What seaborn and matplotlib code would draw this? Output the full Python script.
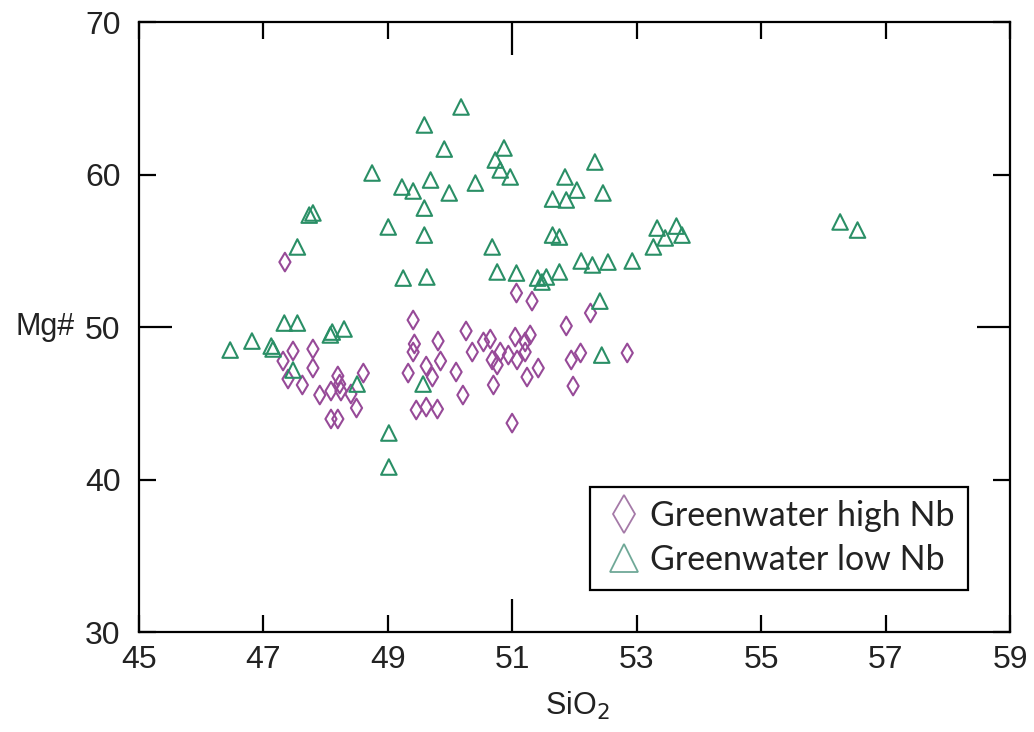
import numpy as np
import pandas as pd
import matplotlib
matplotlib.use("Agg")
import matplotlib.pyplot as plt
from matplotlib.lines import Line2D
import seaborn as sns

# Greenwater high-Nb samples (SiO2 wt%, Mg#)
si_high = [47.35, 47.48, 47.80, 47.32, 47.80, 47.40, 47.63, 47.91, 48.09, 48.20,
           48.25, 48.23, 48.41, 48.61, 48.50, 48.09, 48.20,
           49.41, 49.43, 49.41, 49.81, 49.85, 49.62, 49.33, 49.72, 49.46, 49.62,
           49.80, 50.26, 50.36, 50.10, 50.21, 50.54, 50.65, 50.81, 50.68, 50.76,
           50.70, 50.94, 51.05, 51.29, 51.21, 51.21, 51.08, 51.24, 51.42, 51.00,
           51.07, 51.32, 51.87, 52.26, 51.95, 52.10, 51.98, 52.85]
mg_high = [54.26, 48.43, 48.56, 47.77, 47.31, 46.59, 46.20, 45.54, 45.80, 46.79,
           45.80, 46.26, 45.61, 46.98, 44.69, 43.97, 43.97,
           50.46, 48.89, 48.36, 49.08, 47.77, 47.44, 46.98, 46.72, 44.56, 44.75,
           44.62, 49.74, 48.36, 47.05, 45.54, 49.02, 49.21, 48.36, 47.84, 47.51,
           46.20, 48.16, 49.34, 49.48, 49.02, 48.36, 47.84, 46.72, 47.31, 43.70,
           52.23, 51.70, 50.07, 50.92, 47.84, 48.30, 46.13, 48.30]

# Greenwater low-Nb samples (SiO2 wt%, Mg#)
si_low = [46.47, 46.82, 47.16, 47.13, 47.34, 47.55, 47.48, 47.55, 47.74, 47.80,
          48.08, 48.11, 48.30, 48.51, 48.75, 49.01, 49.02, 49.02, 49.23, 49.41,
          49.25, 49.59, 49.69, 49.59, 49.59, 49.63, 49.57, 49.91, 49.99, 50.18,
          50.41, 50.68, 50.73, 50.81, 50.87, 50.97, 50.76, 51.07, 51.41, 51.48,
          51.55, 51.76, 51.65, 51.76, 51.65, 51.87, 51.85, 52.04, 52.33, 52.46,
          52.11, 52.29, 52.54, 52.93, 52.41, 52.44, 53.27, 53.33, 53.46, 53.64,
          53.73, 56.27, 56.55]
mg_low = [48.49, 49.08, 48.56, 48.75, 50.26, 50.26, 47.18, 55.25, 57.34, 57.48,
          49.48, 49.67, 49.87, 46.26, 60.10, 56.56, 43.05, 40.82, 59.18, 58.92,
          53.21, 63.25, 59.64, 57.80, 56.03, 53.28, 46.26, 61.67, 58.79, 64.43,
          59.44, 55.25, 60.95, 60.30, 61.74, 59.84, 53.61, 53.54, 53.21, 52.95,
          53.28, 53.61, 56.03, 55.90, 58.39, 58.33, 59.84, 58.98, 60.82, 58.79,
          54.33, 54.07, 54.26, 54.33, 51.70, 48.16, 55.25, 56.49, 55.84, 56.62,
          56.03, 56.89, 56.36]

groups = ["Greenwater high Nb", "Greenwater low Nb"]
x_ticks = [45, 47, 49, 51, 53, 55, 57, 59]
y_ticks = [30, 40, 50, 60, 70]

df = pd.concat([
    pd.DataFrame({"SiO2": si_high, "Mg#": mg_high, "group": groups[0]}),
    pd.DataFrame({"SiO2": si_low, "Mg#": mg_low, "group": groups[1]}),
], ignore_index=True)

sns.set_style("ticks")
plt.rcParams["font.family"] = ["Liberation Sans", "DejaVu Sans"]

purple = "#974a98"
green = "#2a8f66"

fig = plt.figure(figsize=(10.34, 7.32), dpi=100)
ax = fig.add_axes([0.1341, 0.1366, 0.8427, 0.8333])

sns.scatterplot(data=df[df.group == groups[0]], x="SiO2", y="Mg#", ax=ax,
                marker="d", s=90, facecolors="none", edgecolor=purple,
                linewidth=1.5, legend=False, zorder=3)
sns.scatterplot(data=df[df.group == groups[1]], x="SiO2", y="Mg#", ax=ax,
                marker="^", s=125, facecolors="none", edgecolor=green,
                linewidth=1.5, legend=False, zorder=3)

ax.set_xlim(45, 59)
ax.set_ylim(30, 70)
ax.set_xticks(x_ticks)
ax.set_yticks(y_ticks)
ax.set_xticklabels([str(v) for v in x_ticks])
ax.set_yticklabels([str(v) for v in y_ticks])

for side in ["left", "right", "top", "bottom"]:
    ax.spines[side].set_visible(True)
    ax.spines[side].set_color("black")
    ax.spines[side].set_linewidth(1.6)

ax.tick_params(axis="both", which="major", direction="in", length=12,
               width=1.6, color="black", top=True, right=True,
               labelsize=23, labelcolor="#222222")
ax.tick_params(axis="y", pad=13)
ax.tick_params(axis="x", pad=9)

# longer ticks at the centre of each axis
for tick in ax.xaxis.get_major_ticks():
    if tick.get_loc() == 51:
        tick.tick1line.set_markersize(24)
        tick.tick2line.set_markersize(24)
for tick in ax.yaxis.get_major_ticks():
    if tick.get_loc() == 50:
        tick.tick1line.set_markersize(24)
        tick.tick2line.set_markersize(24)

ax.set_xlabel("SiO$_2$", fontsize=22, color="#222222")
ax.set_ylabel("Mg#", fontsize=22, color="#222222", rotation=0,
              ha="center", va="center")
ax.xaxis.set_label_coords(0.503, -0.095)
ax.yaxis.set_label_coords(-0.1075, 0.5)

handles = [
    Line2D([], [], linestyle="none", marker="d", markersize=19,
           markerfacecolor="none", markeredgecolor="#a57aa8",
           markeredgewidth=1.3, label=groups[0]),
    Line2D([], [], linestyle="none", marker="^", markersize=20,
           markerfacecolor="none", markeredgecolor="#6fa897",
           markeredgewidth=1.3, label=groups[1]),
]
leg = ax.legend(handles=handles, loc="lower left",
                bbox_to_anchor=(0.518, 0.069), borderaxespad=0,
                frameon=True, fancybox=False,
                edgecolor="black", framealpha=1, borderpad=0.4,
                handletextpad=0.15, handlelength=1.2, labelspacing=0.35,
                prop={"family": ["Lato", "DejaVu Sans"], "size": 24.5})
leg.get_frame().set_linewidth(1.6)
for t in leg.get_texts():
    t.set_color("#222222")

fig.savefig("out.png", dpi=100)
